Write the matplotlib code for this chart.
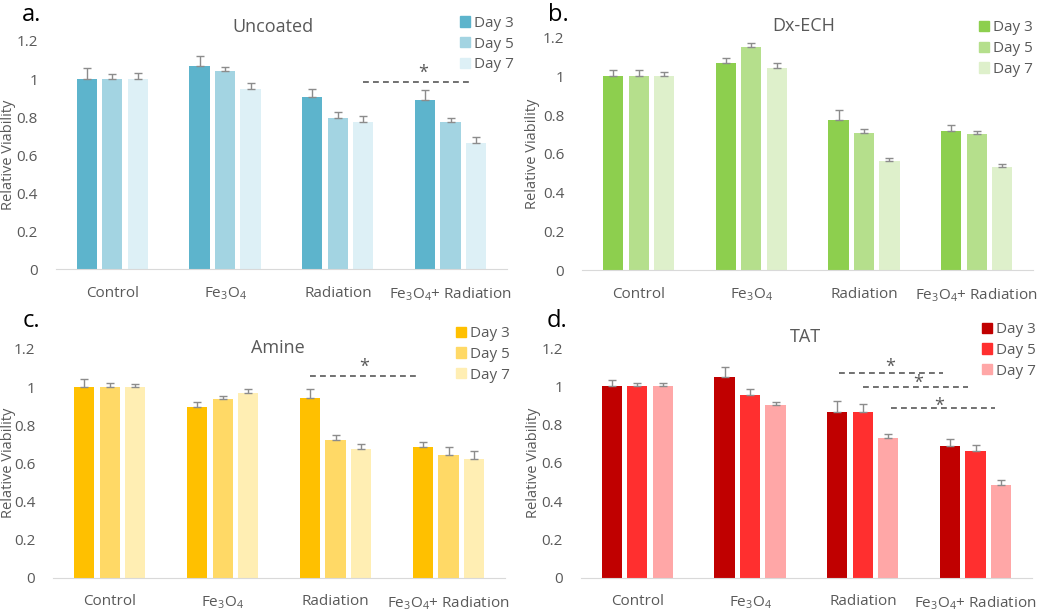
import matplotlib.pyplot as plt
import numpy as np
from matplotlib.patches import Patch

plt.rcParams['font.family'] = ['Open Sans', 'DejaVu Sans']
plt.rcParams['mathtext.fontset'] = 'custom'
plt.rcParams['mathtext.rm'] = 'Open Sans'
plt.rcParams['mathtext.it'] = 'Open Sans'

# kategori dan seri
categories = ['Control', r'Fe$_3$O$_4$', 'Radiation', r'Fe$_3$O$_4$+ Radiation']
days = ['Day 3', 'Day 5', 'Day 7']

# nilai rata-rata (baris = hari, kolom = kategori)
uncoated = [[1.00, 1.07, 0.903, 0.889],
            [1.00, 1.042, 0.793, 0.773],
            [1.00, 0.947, 0.775, 0.663]]
uncoated_err = [[0.06, 0.05, 0.043, 0.053],
                [0.026, 0.021, 0.033, 0.023],
                [0.03, 0.03, 0.028, 0.033]]

dxech = [[1.00, 1.07, 0.776, 0.718],
         [1.00, 1.151, 0.709, 0.704],
         [1.00, 1.041, 0.561, 0.53]]
dxech_err = [[0.031, 0.026, 0.048, 0.032],
             [0.031, 0.022, 0.019, 0.014],
             [0.02, 0.029, 0.019, 0.017]]

amine = [[1.00, 0.895, 0.944, 0.684],
         [1.00, 0.939, 0.724, 0.645],
         [1.00, 0.969, 0.677, 0.624]]
amine_err = [[0.04, 0.026, 0.047, 0.028],
             [0.019, 0.015, 0.023, 0.042],
             [0.016, 0.022, 0.024, 0.039]]

tat = [[1.00, 1.051, 0.865, 0.688],
       [1.00, 0.955, 0.865, 0.664],
       [1.00, 0.904, 0.729, 0.483]]
tat_err = [[0.035, 0.052, 0.057, 0.035],
           [0.016, 0.033, 0.041, 0.031],
           [0.02, 0.016, 0.024, 0.026]]

# garis signifikansi: (x awal, x akhir, y garis, x bintang, y bintang)
sig_a = [(2.22, 3.20, 0.986, 2.755, 1.047)]
sig_c = [(1.77, 2.73, 1.056, 2.25, 1.119)]
sig_d = [(1.79, 2.71, 1.07, 2.24, 1.115),
         (2.00, 2.93, 0.995, 2.49, 1.035),
         (2.25, 3.17, 0.888, 2.68, 0.915)]

# (label, judul, data, error, warna, signifikansi, posisi axes, legend, judul xy, label xy, ylabel x)
panels = [
    ('a.', 'Uncoated', uncoated, uncoated_err, ['#5DB4CC', '#A3D4E2', '#DDF0F6'], sig_a,
     [0.0533, 0.5597, 0.4295, 0.3732], (0.438, 0.974), (0.2597, 0.948), (0.021, 0.966), -0.089),
    ('b.', 'Dx-ECH', dxech, dxech_err, ['#8DCF4E', '#B5DF8C', '#DEF0CB'], [],
     [0.5546, 0.5581, 0.4292, 0.3804], (0.932, 0.967), (0.765, 0.9498), (0.522, 0.966), -0.094),
    ('c.', 'Amine', amine, amine_err, ['#FFC000', '#FFD966', '#FFEEB3'], sig_c,
     [0.0508, 0.0545, 0.4302, 0.3745], (0.434, 0.4664), (0.265, 0.4228), (0.022, 0.4653), -0.083),
    ('d.', 'TAT', tat, tat_err, ['#C00000', '#FF2F2F', '#FFA7A7'], sig_d,
     [0.5533, 0.0545, 0.4295, 0.3758], (0.935, 0.473), (0.7667, 0.4398), (0.5207, 0.4653), -0.088),
]

fig = plt.figure(figsize=(10.5, 6.11), dpi=100)
grey = '#595959'
x = np.arange(len(categories))
w = 0.18
step = 0.226

for label, title, vals, errs, cols, sigs, pos, legpos, tpos, lpos, ylx in panels:
    ax = fig.add_axes(pos)
    for i in range(3):
        e = np.array(errs[i])
        ax.bar(x + (i - 1) * step, vals[i], width=w, color=cols[i],
               yerr=[np.zeros_like(e), e],
               error_kw=dict(ecolor='#8C8C8C', capsize=3, elinewidth=1, capthick=1))
    for x0, x1, yl, xs, ys in sigs:
        ax.plot([x0, x1], [yl, yl], ls=(0, (3.5, 2.5)), color=grey, lw=1.2)
        ax.annotate('*', (xs, ys), xytext=(0, -2), textcoords='offset points',
                    ha='center', va='center', fontsize=13, color=grey)
    ax.set_xlim(-0.5, 3.5)
    ax.set_ylim(0, 1.2)
    ax.set_yticks([0, 0.2, 0.4, 0.6, 0.8, 1, 1.2])
    ax.set_yticklabels(['0', '0.2', '0.4', '0.6', '0.8', '1', '1.2'])
    ax.set_xticks(x)
    ax.set_xticklabels(categories)
    ax.tick_params(length=0, labelsize=11, labelcolor=grey)
    ax.tick_params(axis='y', pad=13)
    ax.tick_params(axis='x', pad=12)
    for s in ['top', 'right', 'left']:
        ax.spines[s].set_visible(False)
    ax.spines['bottom'].set_color('#D9D9D9')
    ax.set_ylabel('Relative Viability', fontsize=10.5, color=grey)
    ax.yaxis.set_label_coords(ylx, 0.5)
    fig.text(tpos[0], tpos[1], title, fontsize=13, color=grey, ha='center', va='baseline')
    handles = [Patch(color=c) for c in cols]
    fig.legend(handles, days, loc='upper left', bbox_to_anchor=legpos, frameon=False,
               fontsize=11, labelcolor=grey, handlelength=0.65, handleheight=0.65,
               handletextpad=0.3, labelspacing=0.38, borderpad=0, borderaxespad=0)
    fig.text(lpos[0], lpos[1], label, fontsize=17, color='black', ha='left', va='baseline')

plt.savefig('out.png', dpi=100)
